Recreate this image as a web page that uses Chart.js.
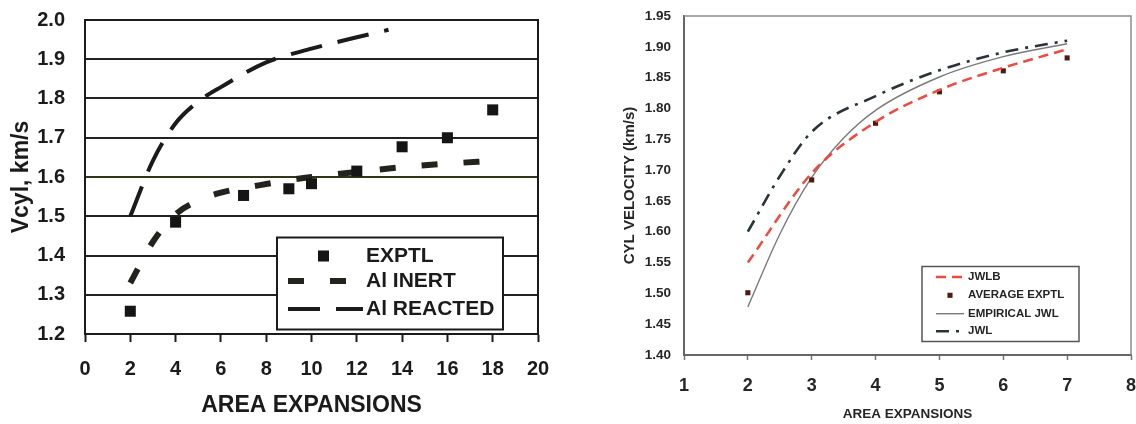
<!DOCTYPE html>
<html>
<head>
<meta charset="utf-8">
<script src="https://cdn.jsdelivr.net/npm/chart.js@4.4.1/dist/chart.umd.min.js"></script>
<style>
  html, body { margin: 0; padding: 0; background: #fff; }
  #left { position: absolute; left: 0; top: 0; }
  #right { position: absolute; left: 568px; top: 0; }
</style>
</head>
<body>
<canvas id="left" width="560" height="424"></canvas>
<canvas id="right" width="568" height="424"></canvas>
<script>
// left panel - Al filled charge
const exptlX = [2, 4, 7, 9, 10, 12, 14, 16, 18];
const exptlY = [1.258, 1.485, 1.553, 1.570, 1.583, 1.615, 1.677, 1.700, 1.771];
const inertX = [2, 3, 4, 5, 6, 7, 8, 9, 10, 12, 14, 16, 18];
const inertY = [1.33, 1.435, 1.505, 1.54, 1.56, 1.572, 1.582, 1.592, 1.60, 1.613, 1.625, 1.634, 1.641];
const reactedX = [2, 3, 4, 5, 6, 8, 10, 12, 13.4];
const reactedY = [1.50, 1.642, 1.737, 1.792, 1.829, 1.892, 1.927, 1.956, 1.975];
const leftXTicks = [0, 20, 2];      // min, max, step
const leftYTicks = [1.2, 2.0, 0.1];

// right panel - JWL comparison
const jwlbX = [2, 3, 4, 5, 6, 7];
const jwlbY = [1.55, 1.695, 1.778, 1.83, 1.866, 1.896];
const avgX = [2, 3, 4, 5, 6, 7];
const avgY = [1.501, 1.684, 1.776, 1.827, 1.861, 1.882];
const empX = [2, 2.5, 3, 3.5, 4, 5, 6, 7];
const empY = [1.478, 1.596, 1.688, 1.752, 1.797, 1.851, 1.884, 1.905];
const jwlX = [2, 2.5, 3, 4, 5, 6, 7];
const jwlY = [1.60, 1.69, 1.762, 1.82, 1.862, 1.891, 1.91];
const rightXTicks = [1, 8, 1];
const rightYTicks = [1.40, 1.95, 0.05];

function pts(xs, ys) {
    return xs.map((x, i) => ({ x: x, y: ys[i] }));
}

// draws top/right frame edges and a boxed legend inside the plot
const frameLegend = {
    id: 'frameLegend',
    afterDatasetsDraw(chart, args, opts) {
        const ctx = chart.ctx, a = chart.chartArea;
        ctx.save();
        ctx.strokeStyle = opts.frameColor;
        ctx.lineWidth = opts.frameWidth;
        ctx.beginPath();
        ctx.moveTo(a.left, a.top);
        ctx.lineTo(a.right, a.top);
        ctx.lineTo(a.right, a.bottom);
        ctx.stroke();

        const lg = opts.legend;
        ctx.fillStyle = '#fff';
        ctx.fillRect(lg.x, lg.y, lg.w, lg.h);
        ctx.strokeStyle = lg.borderColor;
        ctx.lineWidth = lg.borderWidth;
        ctx.strokeRect(lg.x, lg.y, lg.w, lg.h);
        ctx.font = lg.font;
        ctx.textBaseline = 'middle';
        ctx.textAlign = 'left';
        chart.data.datasets.forEach((ds, i) => {
            const y = lg.rows[i];
            if (ds.showLine) {
                ctx.beginPath();
                ctx.setLineDash(ds.borderDash || []);
                ctx.lineCap = 'butt';
                ctx.strokeStyle = ds.borderColor;
                ctx.lineWidth = ds.borderWidth;
                ctx.moveTo(lg.sampleFrom, y);
                ctx.lineTo(lg.sampleTo, y);
                ctx.stroke();
                ctx.setLineDash([]);
            } else {
                const s = ds.pointRadius * Math.SQRT2;
                ctx.fillStyle = ds.pointBackgroundColor;
                ctx.fillRect(lg.marker - s / 2, y - s / 2, s, s);
            }
            ctx.fillStyle = lg.textColor;
            ctx.fillText(ds.label, lg.textX, y);
        });
        ctx.restore();
    }
};

// keep the plot box where the layout padding puts it
function fixY(width) {
    return s => { s.width = width; s.paddingTop = 0; s.paddingBottom = 0; };
}
function fixX(height) {
    return s => { s.height = height; s.paddingLeft = 0; s.paddingRight = 0; };
}

const ink = '#1b1b1b';
const boldFont = (size, family) => ({ family: family || 'Liberation Sans, Arial, sans-serif', size: size, weight: 'bold' });

new Chart(document.getElementById('left').getContext('2d'), {
    type: 'scatter',
    data: {
        datasets: [{
            label: 'EXPTL',
            data: pts(exptlX, exptlY),
            showLine: false,
            pointStyle: 'rect',
            pointRadius: 7.8,
            pointBorderWidth: 0,
            pointBackgroundColor: '#151515'
        }, {
            label: 'Al INERT',
            data: pts(inertX, inertY),
            showLine: true,
            borderColor: '#23231c',
            borderWidth: 6,
            borderDash: [16, 26],
            pointRadius: 0,
            cubicInterpolationMode: 'monotone'
        }, {
            label: 'Al REACTED',
            data: pts(reactedX, reactedY),
            showLine: true,
            borderColor: '#1b1b1b',
            borderWidth: 4,
            borderDash: [32, 16],
            pointRadius: 0,
            cubicInterpolationMode: 'monotone'
        }]
    },
    plugins: [frameLegend],
    options: {
        responsive: false,
        animation: false,
        layout: { padding: { top: 20, right: 22, bottom: 0, left: 0 } },
        plugins: {
            legend: { display: false },
            tooltip: { enabled: false },
            frameLegend: {
                frameColor: ink, frameWidth: 2,
                legend: {
                    x: 277, y: 237.5, w: 226, h: 92,
                    rows: [256, 281, 309],
                    sampleFrom: 288, sampleTo: 363, marker: 323.5, textX: 366,
                    font: 'bold 21px "Liberation Sans", Arial, sans-serif',
                    textColor: ink, borderColor: ink, borderWidth: 2
                }
            }
        },
        scales: {
            x: {
                type: 'linear',
                min: leftXTicks[0], max: leftXTicks[1],
                ticks: { stepSize: leftXTicks[2], color: ink, font: boldFont(20), padding: 15, maxRotation: 0, autoSkip: false },
                grid: { drawOnChartArea: false, tickLength: 8, tickWidth: 2, tickColor: ink },
                border: { display: true, color: ink, width: 2 },
                title: { display: true, text: 'AREA EXPANSIONS', color: ink, font: boldFont(23), padding: { top: 0, bottom: 5 } },
                afterFit: fixX(90)
            },
            y: {
                min: leftYTicks[0], max: leftYTicks[1],
                ticks: { stepSize: leftYTicks[2], color: ink, font: boldFont(20), padding: 20, callback: v => v.toFixed(1) },
                grid: {
                    drawTicks: false, lineWidth: 2,
                    color: c => (c.tick && Math.abs(c.tick.value - 1.6) < 1e-6) ? '#34341a' : '#222'
                },
                border: { display: true, color: ink, width: 2 },
                title: { display: true, text: 'Vcyl, km/s', color: ink, font: boldFont(23), padding: { top: 8, bottom: 0 } },
                afterFit: fixY(85)
            }
        }
    }
});

const grayInk = '#262626';

new Chart(document.getElementById('right').getContext('2d'), {
    type: 'scatter',
    data: {
        datasets: [{
            label: 'JWLB',
            data: pts(jwlbX, jwlbY),
            showLine: true,
            borderColor: '#f0493d',
            borderWidth: 2.5,
            borderDash: [10, 6],
            pointRadius: 0,
            cubicInterpolationMode: 'monotone'
        }, {
            label: 'AVERAGE EXPTL',
            data: pts(avgX, avgY),
            showLine: false,
            pointStyle: 'rect',
            pointRadius: 3.6,
            pointBorderWidth: 0,
            pointBackgroundColor: '#4a1c12'
        }, {
            label: 'EMPIRICAL JWL',
            data: pts(empX, empY),
            showLine: true,
            borderColor: '#7a7a7a',
            borderWidth: 1.4,
            pointRadius: 0,
            cubicInterpolationMode: 'monotone'
        }, {
            label: 'JWL',
            data: pts(jwlX, jwlY),
            showLine: true,
            borderColor: '#28343a',
            borderWidth: 2.6,
            borderDash: [13, 7, 3, 7],
            pointRadius: 0,
            cubicInterpolationMode: 'monotone'
        }]
    },
    plugins: [frameLegend],
    options: {
        responsive: false,
        animation: false,
        layout: { padding: { top: 16, right: 5, bottom: 0, left: 0 } },
        plugins: {
            legend: { display: false },
            tooltip: { enabled: false },
            frameLegend: {
                frameColor: '#8c8c8c', frameWidth: 1.5,
                legend: {
                    x: 354, y: 266.5, w: 157, h: 75,
                    rows: [277, 295.3, 313.7, 331.3],
                    sampleFrom: 368, sampleTo: 396, marker: 382, textX: 400,
                    font: 'bold 11.5px "Liberation Sans", Arial, sans-serif',
                    textColor: grayInk, borderColor: '#555', borderWidth: 1.5
                }
            }
        },
        scales: {
            x: {
                type: 'linear',
                min: rightXTicks[0], max: rightXTicks[1],
                ticks: { stepSize: rightXTicks[2], color: grayInk, font: boldFont(18), padding: 15, maxRotation: 0, autoSkip: false },
                grid: { drawOnChartArea: false, tickLength: 5, tickWidth: 1.5, tickColor: '#777' },
                border: { display: true, color: '#666', width: 2 },
                title: { display: true, text: 'AREA EXPANSIONS', color: grayInk, font: boldFont(13.5), padding: { top: 0, bottom: 2 } },
                afterFit: fixX(69)
            },
            y: {
                min: rightYTicks[0], max: rightYTicks[1],
                ticks: { stepSize: rightYTicks[2], color: grayInk, font: boldFont(13.5), padding: 13, callback: v => v.toFixed(2) },
                grid: { display: false, drawTicks: false },
                border: { display: true, color: '#666', width: 2 },
                title: { display: true, text: 'CYL VELOCITY (km/s)', color: grayInk, font: boldFont(15), padding: { top: 53, bottom: 0 } },
                afterFit: fixY(116)
            }
        }
    }
});
</script>
</body>
</html>
